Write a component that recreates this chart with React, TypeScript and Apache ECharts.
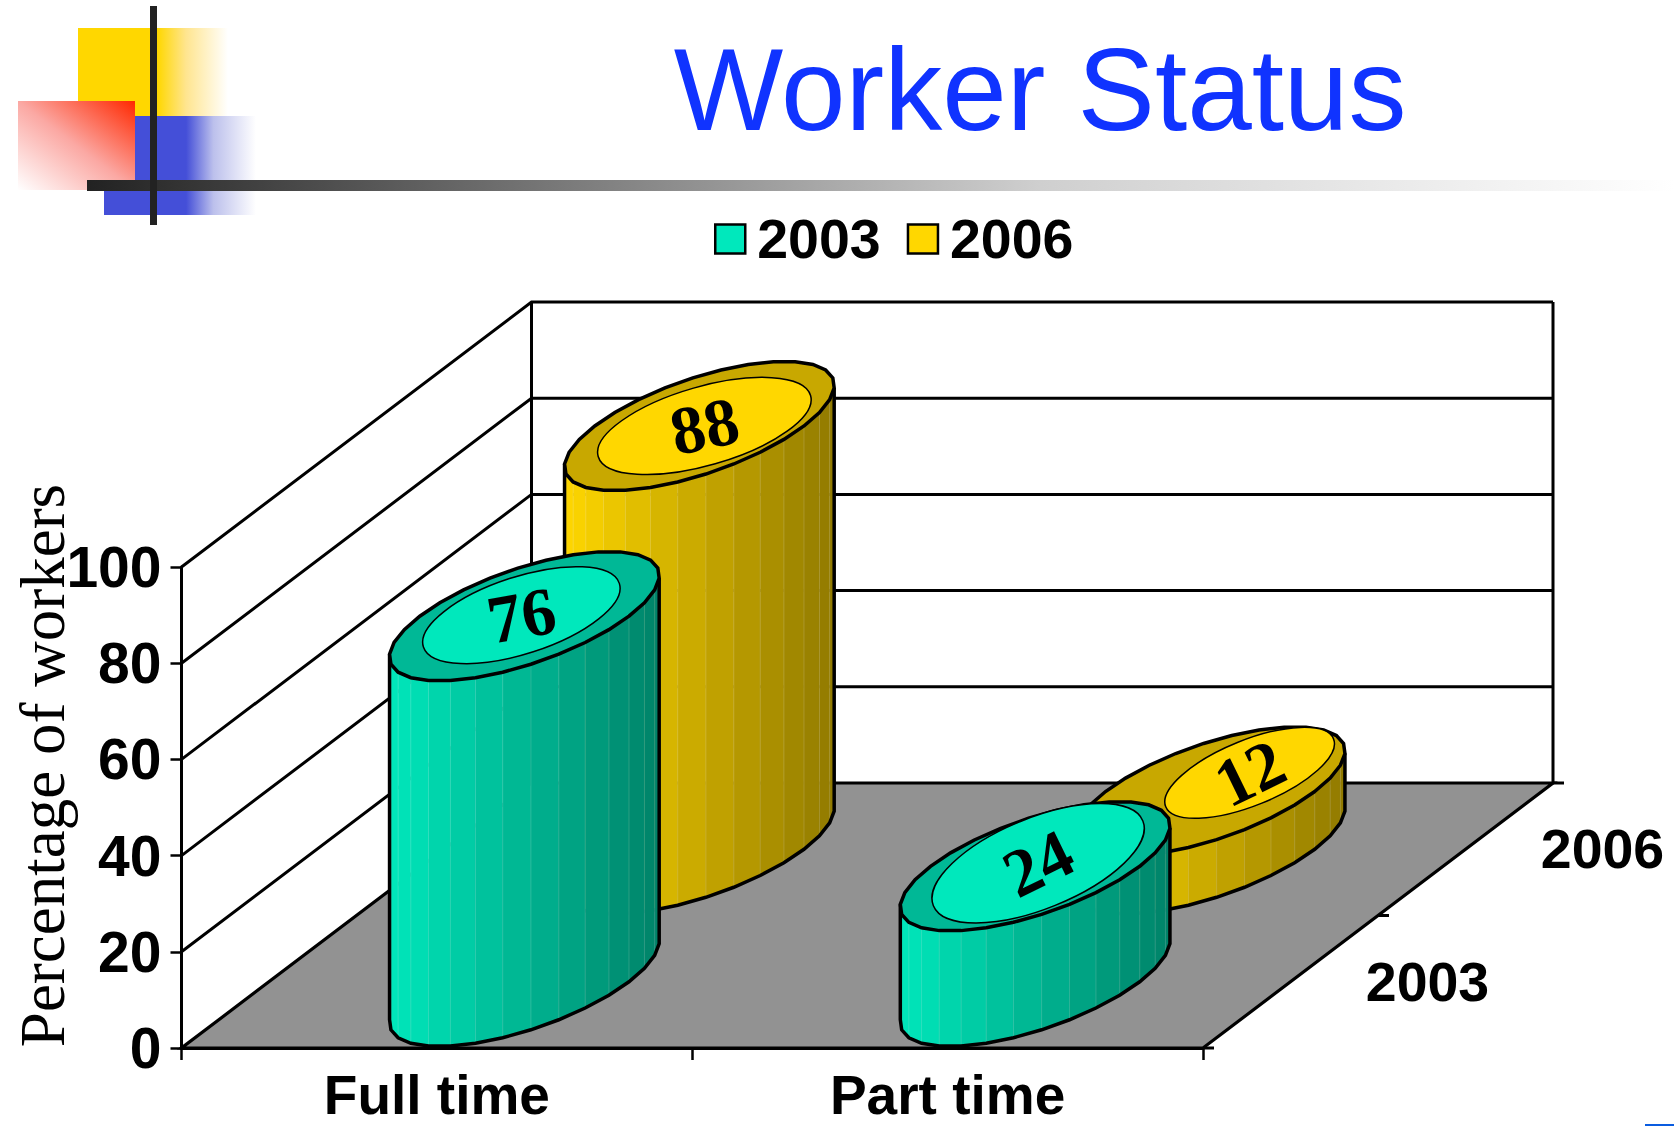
import React, { useEffect, useRef } from "react";
import * as echarts from "echarts";

const title = "Worker Status";
const categories = ["Full time", "Part time"];
const seriesNames = ["2003", "2006"];
const values2003 = [76, 24];
const values2006 = [88, 12];
const valueTicks = [0, 20, 40, 60, 80, 100];
const yAxisName = "Percentage of workers";

const DEPTH_DX = 350;
const DEPTH_DY = 265;
const CYL_A = 104.6;
const CYL_D = 0.244;
const SEGMENTS = 30;

type Look = { light: number[]; dark: number[]; cap: string; face: string; depth: number };
const LOOK_2003: Look = { light: [0, 232, 188], dark: [0, 130, 104], cap: "#00B896", face: "#00E8BC", depth: 0.25 };
const LOOK_2006: Look = { light: [255, 215, 0], dark: [145, 122, 0], cap: "#C8A800", face: "#FFD700", depth: 0.75 };

const FACES_2003 = [
  { dx: -3, dy: -1, a: 103, b: 38.5, tilt: 18, textTilt: 10 },
  { dx: 3, dy: -3, a: 113, b: 45.4, tilt: 22, textTilt: 26 },
];
const FACES_2006 = [
  { dx: 5, dy: 0, a: 110.5, b: 39.4, tilt: 16, textTilt: 12 },
  { dx: 39.5, dy: -18.7, a: 90.5, b: 32.7, tilt: 22, textTilt: 26 },
];

function mix(l: number[], d: number[], f: number) {
  const c = l.map((v, i) => Math.round(v + (d[i] - v) * f));
  return `rgb(${c[0]},${c[1]},${c[2]})`;
}

function makeCylinder(look: Look, faces: typeof FACES_2003) {
  return (params: any, api: any) => {
    const idx = api.value(0);
    const val = api.value(1);
    const floor = api.coord([idx, 0]);
    const top = api.coord([idx, val]);
    const cx = floor[0] + DEPTH_DX * look.depth;
    const baseY = floor[1] - DEPTH_DY * look.depth;
    const h = floor[1] - top[1];
    const ring: number[][] = [];
    for (let i = 0; i < SEGMENTS; i++) {
      const t = (i / SEGMENTS) * Math.PI * 2;
      ring.push([
        CYL_A * Math.cos(t) + DEPTH_DX * CYL_D * Math.sin(t),
        -DEPTH_DY * CYL_D * Math.sin(t),
      ]);
    }
    let left = 0;
    let right = 0;
    ring.forEach((p, i) => {
      if (p[0] < ring[left][0]) left = i;
      if (p[0] > ring[right][0]) right = i;
    });
    const front: number[][] = [];
    for (let i = left; ; i = (i + 1) % SEGMENTS) {
      front.push(ring[i]);
      if (i === right) break;
    }
    const halfW = ring[right][0];
    const children: any[] = [];
    for (let i = 0; i < front.length - 1; i++) {
      const p = front[i];
      const q = front[i + 1];
      const f = ((p[0] + q[0]) / 2 + halfW) / (2 * halfW);
      const color = mix(look.light, look.dark, f);
      children.push({
        type: "polygon",
        shape: {
          points: [
            [cx + p[0], baseY + p[1]],
            [cx + q[0], baseY + q[1]],
            [cx + q[0], baseY + q[1] - h],
            [cx + p[0], baseY + p[1] - h],
          ],
        },
        style: { fill: color, stroke: color, lineWidth: 0.6 },
      });
      if (i > 0) {
        children.push({
          type: "line",
          shape: { x1: cx + p[0], y1: baseY + p[1], x2: cx + p[0], y2: baseY + p[1] - h },
          style: { stroke: "rgba(255,255,255,0.16)", lineWidth: 1 },
        });
      }
    }
    const outline = [
      [cx + front[0][0], baseY + front[0][1] - h],
      ...front.map((p) => [cx + p[0], baseY + p[1]]),
      [cx + front[front.length - 1][0], baseY + front[front.length - 1][1] - h],
    ];
    children.push({
      type: "polyline",
      shape: { points: outline },
      style: { fill: "none", stroke: "#000", lineWidth: 3.5 },
    });
    children.push({
      type: "polygon",
      shape: { points: ring.map((p) => [cx + p[0], baseY + p[1] - h]) },
      style: { fill: look.cap, stroke: "#000", lineWidth: 3.5 },
    });
    const face = faces[params.dataIndex];
    const fx = cx + face.dx;
    const fy = baseY - h + face.dy;
    children.push({
      type: "ellipse",
      x: fx,
      y: fy,
      rotation: (face.tilt * Math.PI) / 180,
      shape: { cx: 0, cy: 0, rx: face.a, ry: face.b },
      style: { fill: look.face, stroke: "#000", lineWidth: 1.5 },
    });
    children.push({
      type: "text",
      x: fx,
      y: fy,
      rotation: (face.textTilt * Math.PI) / 180,
      style: {
        text: String(val),
        fill: "#000",
        font: 'bold 68px "Liberation Serif"',
        align: "center",
        verticalAlign: "middle",
      },
    });
    return { type: "group", children };
  };
}

function renderBox(params: any, api: any) {
  const v = api.value(1);
  const cs = params.coordSys;
  const x0 = cs.x;
  const x1 = cs.x + cs.width;
  const y = api.coord([0, v])[1];
  const line = { stroke: "#000", lineWidth: 3 };
  const children: any[] = [];
  if (v === 0) {
    children.push({
      type: "polygon",
      shape: {
        points: [
          [x0, y],
          [x1, y],
          [x1 + DEPTH_DX, y - DEPTH_DY],
          [x0 + DEPTH_DX, y - DEPTH_DY],
        ],
      },
      style: { fill: "#929292", stroke: "#000", lineWidth: 3.2 },
    });
    [0, 0.5, 1].forEach((f) => {
      const tx = x1 + DEPTH_DX * f;
      const ty = y - DEPTH_DY * f;
      children.push({
        type: "line",
        shape: { x1: tx, y1: ty, x2: tx + 11, y2: ty },
        style: line,
      });
    });
    seriesNames.forEach((name, i) => {
      const f = (i + 0.5) / seriesNames.length;
      children.push({
        type: "text",
        x: x1 + DEPTH_DX * f + 137,
        y: y - DEPTH_DY * f,
        style: {
          text: name,
          fill: "#000",
          font: 'bold 55.5px "Liberation Sans"',
          align: "center",
          verticalAlign: "middle",
        },
      });
    });
  } else {
    children.push({
      type: "polyline",
      shape: {
        points: [
          [x0, y],
          [x0 + DEPTH_DX, y - DEPTH_DY],
          [x1 + DEPTH_DX, y - DEPTH_DY],
        ],
      },
      style: { fill: "none", ...line },
    });
  }
  if (v === valueTicks[valueTicks.length - 1]) {
    const yb = api.coord([0, 0])[1] - DEPTH_DY;
    [x0 + DEPTH_DX, x1 + DEPTH_DX].forEach((xx) => {
      children.push({
        type: "line",
        shape: { x1: xx, y1: y - DEPTH_DY, x2: xx, y2: yb },
        style: line,
      });
    });
  }
  return { type: "group", children };
}

const grad = (x2: number, y2: number, stops: [number, string][], x1 = 0, y1 = 0) =>
  new echarts.graphic.LinearGradient(x1, y1, x2, y2, stops.map(([offset, color]) => ({ offset, color })));

export default function App() {
  const ref = useRef<HTMLDivElement>(null);
  useEffect(() => {
    document.body.style.margin = "0";
    const chart = echarts.init(ref.current!, undefined, { renderer: "svg" });
    chart.setOption({
      animation: false,
      backgroundColor: "#fff",
      title: {
        text: title,
        left: 1035,
        top: 27,
        textAlign: "center",
        textStyle: { color: "#1033FF", fontFamily: "Liberation Sans", fontSize: 116, fontWeight: "normal" },
      },
      legend: {
        data: seriesNames,
        left: 709,
        top: 206,
        icon: "rect",
        itemWidth: 30,
        itemHeight: 29,
        itemGap: 26,
        itemStyle: { borderColor: "#000", borderWidth: 2.5 },
        textStyle: { color: "#000", fontFamily: "Liberation Sans", fontWeight: "bold", fontSize: 55.5, padding: [0, 0, 0, 7] },
      },
      grid: { left: 181.5, top: 567, width: 1021.5, height: 481, outerBoundsMode: "none" },
      xAxis: {
        type: "category",
        data: categories,
        axisLine: { show: true, lineStyle: { color: "#000", width: 3 } },
        axisTick: { show: true, length: 12, lineStyle: { color: "#000", width: 2.5 } },
        axisLabel: { color: "#000", fontFamily: "Liberation Sans", fontWeight: "bold", fontSize: 55, lineHeight: 54, margin: 20 },
        z: 2,
      },
      yAxis: {
        type: "value",
        min: 0,
        max: 100,
        interval: 20,
        name: yAxisName,
        nameLocation: "middle",
        nameGap: 107,
        nameMoveOverlap: false,
        nameTextStyle: { color: "#000", fontFamily: "Liberation Serif", fontSize: 63, padding: [0, 0, 0, 84] },
        axisLine: { show: true, lineStyle: { color: "#000", width: 3 } },
        axisTick: { show: true, length: 11, lineStyle: { color: "#000", width: 2.5 } },
        splitLine: { show: false },
        axisLabel: { color: "#000", fontFamily: "Liberation Sans", fontWeight: "bold", fontSize: 57, margin: 20 },
        z: 2,
      },
      series: [
        {
          type: "custom",
          name: "box",
          z: 1,
          renderItem: renderBox,
          data: valueTicks.map((v) => [0, v]),
          silent: true,
        },
        {
          type: "custom",
          name: seriesNames[1],
          z: 3,
          itemStyle: { color: "#FFD700" },
          renderItem: makeCylinder(LOOK_2006, FACES_2006),
          encode: { x: 0, y: 1 },
          data: values2006.map((v, i) => [i, v]),
        },
        {
          type: "custom",
          name: seriesNames[0],
          z: 4,
          itemStyle: { color: "#00E8BC" },
          renderItem: makeCylinder(LOOK_2003, FACES_2003),
          encode: { x: 0, y: 1 },
          data: values2003.map((v, i) => [i, v]),
        },
      ],
      graphic: [
        {
          type: "rect",
          z: 10,
          shape: { x: 78, y: 28, width: 150, height: 88 },
          style: { fill: grad(1, 0, [[0, "#FFD700"], [0.53, "#FFD700"], [0.72, "#FFE58F"], [1, "#FFFFFF"]]) },
        },
        {
          type: "rect",
          z: 10,
          shape: { x: 104, y: 116, width: 152, height: 99 },
          style: { fill: grad(1, 0, [[0, "#444FD8"], [0.54, "#444FD8"], [0.72, "#BCC0EC"], [1, "#FFFFFF"]]) },
        },
        {
          type: "rect",
          z: 11,
          shape: { x: 18, y: 101, width: 117, height: 89 },
          style: { fill: grad(0, 1, [[0, "#FF2800"], [0.5, "#FBA8A3"], [1, "#FFFFFF"]], 1, 0) },
        },
        {
          type: "rect",
          z: 12,
          shape: { x: 87, y: 180, width: 1587, height: 11 },
          style: { fill: grad(1, 0, [[0, "#222222"], [0.26, "#6E6E6E"], [0.6, "#CFCFCF"], [1, "#FFFFFF"]]) },
        },
        {
          type: "rect",
          z: 13,
          shape: { x: 150, y: 6, width: 7, height: 219 },
          style: { fill: "#222222" },
        },
        {
          type: "rect",
          z: 13,
          shape: { x: 1645, y: 1124, width: 29, height: 2 },
          style: { fill: "#0A5CE0" },
        },
      ],
    });
    return () => chart.dispose();
  }, []);
  return <div ref={ref} style={{ width: 1674, height: 1126, overflow: "hidden" }} />;
}
